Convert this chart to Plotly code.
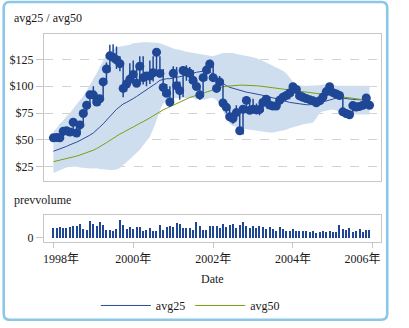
import pandas as pd
import plotly.graph_objects as go
from plotly.subplots import make_subplots

# Monthly stock data, Jan 1998 - Dec 2005
dates = pd.date_range("1998-01-01", periods=96, freq="MS")

close = [
    52.0, 52.3, 52.0, 58.0, 58.5, 57.4, 66.5, 56.5, 64.0, 74.6, 82.3, 92.0,
    92.0, 85.3, 88.3, 104.0, 116.0, 128.3, 127.0, 124.6, 121.0, 98.0, 102.0, 106.5,
    111.0, 102.8, 118.6, 108.0, 109.5, 109.5, 112.5, 131.6, 111.9, 98.9, 93.5, 85.3,
    112.0, 100.4, 95.9, 114.6, 113.2, 112.0, 105.5, 99.8, 91.9, 108.0, 115.0, 120.7,
    108.0, 98.0, 104.0, 84.4, 80.5, 71.6, 70.0, 75.5, 58.6, 78.6, 86.8, 77.7,
    78.6, 78.0, 78.4, 84.9, 88.0, 82.5, 81.5, 81.6, 87.0, 89.8, 91.4, 93.7,
    99.5, 97.0, 91.0, 89.8, 88.5, 87.5, 86.5, 84.6, 86.5, 90.0, 95.0, 99.5,
    94.0, 92.8, 91.4, 76.2, 74.6, 73.5, 82.0, 80.7, 81.2, 82.3, 89.0, 82.3,
]
high = [
    54.0, 53.5, 54.0, 60.0, 61.0, 60.0, 69.0, 68.0, 66.0, 76.0, 84.0, 93.5,
    100.0, 93.0, 91.0, 105.0, 122.0, 138.5, 139.0, 137.0, 128.0, 121.5, 106.0, 121.5,
    124.0, 121.0, 128.0, 128.0, 112.0, 124.0, 128.0, 134.5, 128.0, 116.0, 102.0, 100.0,
    118.5, 118.0, 104.5, 118.6, 119.5, 118.0, 115.0, 106.0, 101.0, 111.5, 119.0, 124.7,
    121.5, 109.5, 109.5, 106.0, 86.0, 81.0, 74.0, 82.3, 79.0, 80.0, 89.0, 88.3,
    88.3, 84.0, 84.0, 88.0, 90.0, 90.5, 84.0, 84.0, 90.0, 91.0, 92.5, 94.0,
    100.5, 100.5, 98.0, 94.5, 91.0, 90.0, 88.5, 87.0, 87.5, 90.5, 96.0, 100.0,
    99.0, 95.0, 93.0, 92.8, 77.5, 77.0, 85.0, 85.0, 82.0, 84.0, 89.5, 89.0,
]
low = [
    49.0, 49.5, 50.5, 52.0, 56.5, 55.0, 57.0, 55.5, 57.0, 62.0, 73.0, 80.0,
    87.0, 84.0, 82.0, 90.0, 102.0, 113.0, 122.0, 116.0, 114.0, 89.8, 95.0, 104.0,
    105.0, 100.0, 102.0, 101.5, 100.0, 102.0, 104.5, 112.0, 110.5, 91.0, 90.0, 80.7,
    83.8, 99.0, 87.5, 90.0, 105.0, 103.0, 100.5, 97.0, 87.5, 90.0, 105.0, 113.0,
    105.5, 94.5, 97.0, 83.0, 75.0, 68.0, 65.0, 69.0, 57.5, 55.0, 75.0, 76.0,
    77.0, 76.0, 73.0, 76.0, 84.0, 81.0, 78.0, 79.0, 81.0, 85.0, 87.0, 88.0,
    91.0, 94.0, 88.0, 86.0, 85.0, 85.5, 83.0, 81.0, 83.0, 84.0, 89.5, 94.0,
    91.5, 91.0, 89.0, 74.6, 73.5, 73.0, 73.5, 80.0, 78.0, 79.0, 82.0, 81.0,
]
band_upper = [
    58.0, 61.0, 65.0, 68.0, 72.0, 75.0, 79.0, 83.0, 86.0, 91.0, 96.0, 101.0,
    106.0, 112.0, 118.0, 124.0, 129.0, 132.0, 134.0, 136.0, 137.0, 137.5, 138.0, 138.5,
    140.0, 140.5, 141.0, 141.0, 141.0, 141.0, 141.0, 140.5, 140.0, 139.0, 138.0, 136.5,
    135.0, 134.5, 134.0, 133.0, 132.0, 131.5, 131.0, 130.5, 129.5, 129.0, 128.5, 128.0,
    128.0, 129.0, 130.0, 131.0, 131.0, 131.0, 131.0, 130.0, 129.5, 129.0, 128.5, 128.0,
    127.0, 126.0, 125.0, 123.5, 122.0, 120.5, 119.0, 117.5, 116.0, 114.5, 112.0, 108.0,
    104.5, 101.0, 100.5, 100.5, 100.5, 100.5, 100.5, 100.5, 101.0, 101.5, 101.6, 101.5,
    101.0, 100.5, 100.5, 100.5, 100.5, 100.5, 100.5, 100.5, 100.5, 100.5, 100.5, 100.5,
]
band_lower = [
    19.2, 20.5, 22.0, 23.5, 24.5, 25.0, 25.3, 25.0, 24.5, 24.0, 24.0, 23.5,
    23.5, 23.7, 23.0, 22.5, 22.3, 22.0, 22.0, 22.5, 24.0, 26.5, 29.0, 32.0,
    35.0, 38.0, 41.0, 45.0, 49.0, 53.0, 60.0, 68.0, 78.0, 84.0, 86.0, 87.5,
    88.5, 89.0, 89.0, 89.0, 89.0, 89.0, 89.0, 88.0, 87.4, 87.5, 88.0, 89.0,
    89.0, 87.0, 83.0, 77.0, 70.0, 65.0, 63.0, 62.0, 61.0, 60.5, 60.0, 59.5,
    59.0, 58.5, 58.0, 57.5, 57.0, 57.0, 57.0, 57.5, 58.0, 58.6, 59.5, 61.0,
    62.0, 63.0, 64.0, 64.5, 65.0, 65.5, 66.0, 70.0, 75.3, 76.5, 77.5, 78.0,
    78.3, 77.5, 76.0, 74.5, 73.7, 73.7, 73.7, 73.7, 73.7, 73.7, 73.7, 73.7,
]
avg25 = [
    39.5, 40.5, 41.5, 43.0, 44.0, 45.5, 46.5, 48.0, 49.5, 51.0, 52.5, 54.5,
    56.5, 59.0, 62.0, 65.0, 68.5, 72.0, 75.5, 78.5, 81.0, 83.5, 85.0, 86.5,
    88.5, 90.5, 92.5, 94.5, 96.5, 98.0, 100.5, 103.0, 105.5, 106.5, 107.0, 107.0,
    107.5, 108.0, 108.5, 109.5, 110.5, 111.5, 112.5, 113.0, 113.5, 114.0, 114.5, 113.5,
    111.0, 108.0, 105.0, 102.5, 100.5, 99.0, 98.0, 97.0, 96.0, 95.2, 94.5, 94.0,
    93.5, 93.0, 92.5, 91.5, 90.5, 90.0, 89.0, 88.5, 87.5, 86.5, 85.5, 85.0,
    84.5, 84.0, 83.5, 83.0, 82.8, 82.8, 83.0, 83.5, 84.5, 85.5, 86.5, 87.5,
    88.3, 89.0, 89.2, 89.0, 88.5, 88.0, 87.8, 87.5, 87.4, 87.4, 87.3, 87.2,
]
avg50 = [
    29.8, 30.5, 31.3, 32.0, 32.8, 33.5, 34.2, 35.0, 36.0, 37.0, 38.0, 39.2,
    40.5, 42.0, 43.5, 45.5, 47.5, 49.5, 51.5, 54.0, 55.5, 57.0, 59.0, 60.5,
    62.0, 64.0, 65.5, 67.0, 68.5, 70.5, 72.5, 74.5, 76.5, 78.0, 79.5, 81.0,
    82.5, 84.0, 85.5, 87.0, 88.5, 89.5, 90.5, 91.5, 93.0, 94.0, 95.0, 96.0,
    97.0, 98.0, 99.0, 99.5, 100.0, 100.4, 100.6, 100.8, 101.0, 101.0, 101.0, 100.8,
    100.6, 100.4, 100.2, 99.8, 99.5, 99.2, 99.0, 98.5, 98.0, 97.5, 97.0, 96.8,
    96.5, 96.0, 95.5, 95.2, 94.8, 94.4, 94.0, 93.5, 93.0, 92.6, 92.2, 91.8,
    91.4, 91.0, 90.5, 90.0, 89.5, 89.1, 88.7, 88.3, 87.8, 87.5, 87.2, 87.0,
]
# previous-month volume, millions of shares
prevvolume = [
    174, 174, 198, 174, 174, 186, 210, 210, 252, 156, 144, 294,
    246, 216, 288, 234, 138, 138, 126, 156, 324, 222, 156, 198,
    156, 198, 198, 126, 144, 168, 126, 126, 234, 144, 198, 210,
    198, 258, 252, 168, 168, 168, 138, 288, 216, 144, 144, 210,
    210, 204, 168, 252, 186, 222, 252, 174, 222, 276, 204, 168,
    204, 174, 210, 198, 162, 198, 156, 126, 192, 150, 114, 114,
    156, 120, 120, 114, 114, 96, 120, 90, 108, 120, 108, 120,
    96, 102, 228, 150, 144, 168, 108, 114, 150, 102, 132, 132,
]

price_ticks = [25, 50, 75, 100, 125]
price_labels = ["$25", "$50", "$75", "$100", "$125"]
year_ticks = ["1998-01-01", "2000-01-01", "2002-01-01", "2004-01-01", "2006-01-01"]
year_labels = ["1998年", "2000年", "2002年", "2004年", "2006年"]

W, H = 409, 328
L, R, T, B = 44, 8, 34, 81
PW, PH = W - L - R, H - T - B


def px_x(x):
    return (x - L) / PW


def px_y(y):
    return (H - B - y) / PH


BLUE = "#1f4796"
LINE25 = "#2b4c9b"
LINE50 = "#7c9e12"
BAND = "#cfdeef"
FRAME = "#c6c6c6"
GRID = "#d2d2d2"
FONT = "'Liberation Serif', 'Times New Roman', 'DejaVu Serif', 'Noto Sans CJK TC', serif"
TXT = "#1a1a1a"
NBSP = "\u00a0"

# keep the end labels inside the plot width
year_text = list(year_labels)
year_text[0] = NBSP * 5 + year_text[0]
year_text[-1] = year_text[-1] + NBSP * 7

fig = make_subplots(rows=2, cols=1, shared_xaxes=True, vertical_spacing=0.0)

# envelope band
fig.add_trace(go.Scatter(x=dates, y=band_lower, mode="lines",
                         line=dict(width=0, color=BAND), showlegend=False,
                         hoverinfo="skip"), row=1, col=1)
fig.add_trace(go.Scatter(x=dates, y=band_upper, mode="lines", fill="tonexty",
                         fillcolor=BAND, line=dict(width=0, color=BAND),
                         showlegend=False, hoverinfo="skip"), row=1, col=1)

# moving averages
fig.add_trace(go.Scatter(x=dates, y=avg25, mode="lines", name="avg25",
                         line=dict(color=LINE25, width=1)), row=1, col=1)
fig.add_trace(go.Scatter(x=dates, y=avg50, mode="lines", name="avg50",
                         line=dict(color=LINE50, width=1)), row=1, col=1)

# high-low whiskers
hx, hy = [], []
for d, lo, hi in zip(dates, low, high):
    hx += [d, d, None]
    hy += [lo, hi, None]
fig.add_trace(go.Scatter(x=hx, y=hy, mode="lines", line=dict(color=BLUE, width=1.5),
                         showlegend=False, hoverinfo="skip"), row=1, col=1)

# closing prices
fig.add_trace(go.Scatter(x=dates, y=close, mode="markers",
                         marker=dict(color=BLUE, size=9, line=dict(width=0)),
                         showlegend=False), row=1, col=1)

# volume panel
fig.add_trace(go.Bar(x=dates, y=prevvolume, width=10 * 86400000,
                     marker=dict(color=BLUE, line=dict(width=0)),
                     showlegend=False), row=2, col=1)

xrange = ["1997-10-07", "2006-03-16"]
axis_common = dict(showline=True, mirror=True, linecolor=FRAME, linewidth=1.3,
                   zeroline=False)
fig.update_xaxes(range=xrange, showgrid=False, **axis_common)
fig.update_xaxes(showticklabels=False, ticks="", row=1, col=1)
fig.update_xaxes(ticks="outside", ticklen=5, tickcolor=FRAME, tickwidth=1.3,
                 tickvals=year_ticks, ticktext=year_text,
                 ticklabeloverflow="allow",
                 tickfont=dict(family=FONT, size=12, color=TXT), row=2, col=1)

fig.update_yaxes(domain=[px_y(185), 1.0], range=[11.4, 148.6],
                 tickvals=price_ticks, ticktext=price_labels,
                 ticks="outside", ticklen=7, tickcolor=FRAME, tickwidth=1.3,
                 showgrid=True, gridcolor=GRID, griddash="dash", gridwidth=1,
                 tickfont=dict(family=FONT, size=12, color=TXT),
                 row=1, col=1, **axis_common)
fig.update_yaxes(domain=[0.0, px_y(219.3)], range=[-80, 405], tickvals=[0],
                 ticks="outside", ticklen=7, tickcolor=FRAME, tickwidth=1.3,
                 showgrid=False,
                 tickfont=dict(family=FONT, size=12, color=TXT),
                 row=2, col=1, **axis_common)

ann_font = dict(family=FONT, size=12, color=TXT)
annotations = [
    dict(text="avg25 / avg50", x=px_x(10), y=px_y(18), xref="paper", yref="paper",
         xanchor="left", yanchor="middle", showarrow=False, font=ann_font),
    dict(text="prevvolume", x=px_x(10), y=px_y(204), xref="paper", yref="paper",
         xanchor="left", yanchor="middle", showarrow=False, font=ann_font),
    dict(text="Date", x=px_x(222), y=px_y(285), xref="paper", yref="paper",
         xanchor="center", yanchor="middle", showarrow=False, font=ann_font),
]

# outer rounded frame
x0, y0, x1, y1, r = px_x(1.3), px_y(1.3), px_x(407.6), px_y(326.6), 6
rx, ry = r / PW, r / PH
frame_path = (
    f"M {x0 + rx},{y0} L {x1 - rx},{y0} Q {x1},{y0} {x1},{y0 - ry} "
    f"L {x1},{y1 + ry} Q {x1},{y1} {x1 - rx},{y1} "
    f"L {x0 + rx},{y1} Q {x0},{y1} {x0},{y1 + ry} "
    f"L {x0},{y0 - ry} Q {x0},{y0} {x0 + rx},{y0} Z"
)

fig.update_layout(
    width=W, height=H,
    margin=dict(l=L, r=R, t=T, b=B, pad=0),
    paper_bgcolor="white", plot_bgcolor="white",
    font=dict(family=FONT, size=12, color=TXT),
    annotations=annotations,
    shapes=[dict(type="path", path=frame_path, xref="paper", yref="paper",
                 line=dict(color="#8dc7e8", width=2.6), layer="above")],
    legend=dict(orientation="h", x=px_x(199), y=px_y(312), xanchor="center",
                yanchor="middle", itemwidth=50, traceorder="normal",
                font=ann_font, bgcolor="rgba(0,0,0,0)"),
    bargap=0,
)

fig.write_html("out.html")
